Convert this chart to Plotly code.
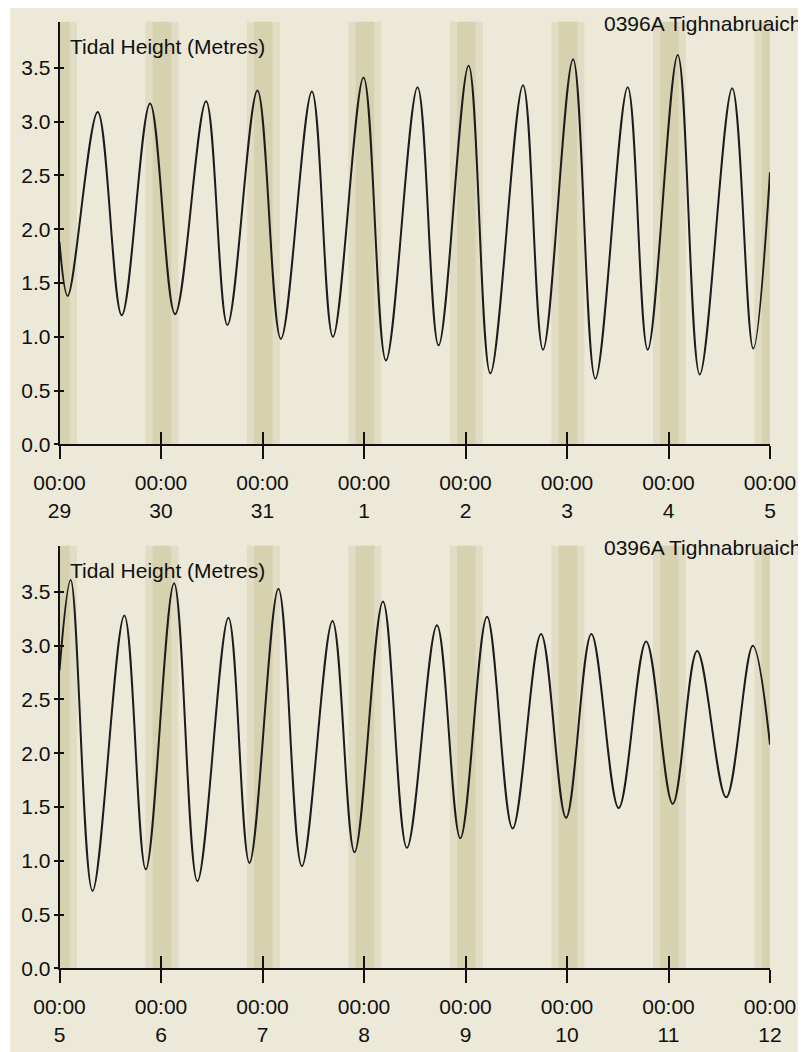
import plotly.graph_objects as go

# ---------------- data (hours since 00:00 of the first day of each panel) -------------
p1_days = ["29", "30", "31", "1", "2", "3", "4", "5"]
p1_hours = [0.0, 1.94, 9.04, 14.72, 21.41, 27.33, 34.66, 39.70, 46.80, 52.34, 59.68,
            64.65, 71.89, 77.19, 84.66, 89.63, 96.73, 101.87, 109.60, 114.33, 121.43,
            126.71, 134.35, 139.08, 146.19, 151.39, 159.06, 164.03, 168.0]
p1_height = [1.88, 1.38, 3.09, 1.20, 3.17, 1.21, 3.19, 1.11, 3.29, 0.98, 3.28,
             1.00, 3.41, 0.78, 3.32, 0.92, 3.52, 0.66, 3.34, 0.88, 3.58,
             0.61, 3.32, 0.88, 3.62, 0.65, 3.31, 0.89, 2.53]

p2_days = ["5", "6", "7", "8", "9", "10", "11", "12"]
p2_hours = [0.0, 2.65, 7.81, 15.33, 20.40, 27.09, 32.61, 39.94, 44.91, 51.77, 57.31,
            64.55, 69.76, 76.48, 82.15, 89.25, 94.77, 101.09, 107.14, 113.86, 119.78,
            125.76, 132.22, 138.71, 145.00, 150.78, 157.64, 163.93, 168.0]
p2_height = [2.77, 3.61, 0.72, 3.28, 0.92, 3.58, 0.81, 3.26, 0.98, 3.53, 0.95,
             3.23, 1.08, 3.41, 1.12, 3.19, 1.21, 3.27, 1.30, 3.11, 1.40,
             3.11, 1.49, 3.04, 1.53, 2.95, 1.59, 3.00, 2.08]

y_ticks = [0.0, 0.5, 1.0, 1.5, 2.0, 2.5, 3.0, 3.5]
y_max = 3.93
# twilight / night relative to each midnight (hours)
twilight_span = (-3.7, 4.1)
night_span = (-2.0, 2.4)

station = "0396A Tighnabruaich"
y_title = "Tidal Height (Metres)"

# ---------------- layout constants (page pixels) ----------------
PAGE_W, PAGE_H = 806, 1052
BODY = 8                      # default page margin around the plot div
W, H = PAGE_W - BODY, PAGE_H - BODY
AX_L, AX_R = 59.5, 770.0
PANELS = [(21.7, 444.3), (545.7, 968.3)]
BG = "#ECE9D8"
BAND_LIGHT = "#E1DDC4"
BAND_DARK = "#D6D1AE"
INK = "#101010"
FONT = dict(family="Liberation Sans, Arial, sans-serif", size=21, color=INK)


def fx(px):
    return (px - BODY) / W


def fy(py):
    return 1 - (py - BODY) / H


fig = go.Figure()
layout = dict(width=W, height=H, margin=dict(l=0, r=0, t=0, b=0, autoexpand=False),
              paper_bgcolor="white", plot_bgcolor=BG, showlegend=False,
              font=FONT, shapes=[], annotations=[])

# beige canvas (white strip top and left like the screenshot)
layout["shapes"].append(dict(type="rect", xref="paper", yref="paper",
                             x0=fx(10), x1=fx(PAGE_W), y0=fy(PAGE_H), y1=fy(BODY),
                             fillcolor=BG, line_width=0, layer="below"))

panels = [(p1_days, p1_hours, p1_height), (p2_days, p2_hours, p2_height)]
for i, ((days, hrs, hts), (top, bot)) in enumerate(zip(panels, PANELS)):
    xa_key = "xaxis" if i == 0 else "xaxis2"
    ya_key = "yaxis" if i == 0 else "yaxis2"
    xa_ref = "x" if i == 0 else "x2"
    ya_ref = "y" if i == 0 else "y2"
    tickvals = [24 * k for k in range(len(days))]
    ticktext = [f"00:00<br>{d}" for d in days]

    fig.add_trace(go.Scatter(x=hrs, y=hts, mode="lines", xaxis=xa_ref, yaxis=ya_ref,
                             line=dict(color="#1c1c1c", width=2, shape="spline", smoothing=1.0),
                             hoverinfo="skip"))
    # empty trace for the overlay axes (inside halves of the crossing ticks)
    fig.add_trace(go.Scatter(x=[None], y=[None], xaxis=f"x{i+3}", yaxis=f"y{i+3}",
                             mode="lines", hoverinfo="skip"))

    dom_x = [fx(AX_L), fx(AX_R)]
    dom_y = [fy(bot), fy(top)]
    xr = [0, tickvals[-1]]
    common = dict(showgrid=False, zeroline=False, automargin=False, fixedrange=True)
    layout[xa_key] = dict(domain=dom_x, range=xr, anchor=ya_ref, tickvals=tickvals,
                          ticktext=ticktext, ticks="outside", ticklen=13, tickwidth=1.5,
                          tickcolor=INK, showline=True, linecolor=INK, linewidth=1.5,
                          tickfont=FONT, ticklabelstandoff=6, **common)
    layout[ya_key] = dict(domain=dom_y, range=[0, y_max], anchor=xa_ref, tickvals=y_ticks,
                          tickformat=".1f", ticks="outside", ticklen=4, tickwidth=1.5,
                          tickcolor=INK, showline=True, linecolor=INK, linewidth=1.5,
                          tickfont=FONT, ticklabelstandoff=-1, **common)
    layout[f"xaxis{i+3}"] = dict(overlaying=xa_ref, range=xr, anchor=f"y{i+3}",
                                 tickvals=tickvals, ticks="inside", ticklen=12,
                                 tickwidth=1.5, tickcolor=INK, showticklabels=False,
                                 showline=False, **common)
    layout[f"yaxis{i+3}"] = dict(overlaying=ya_ref, range=[0, y_max], anchor=f"x{i+3}",
                                 tickvals=y_ticks, ticks="inside", ticklen=4,
                                 tickwidth=1.5, tickcolor=INK, showticklabels=False,
                                 showline=False, **common)

    # night shading around every midnight
    for mid in tickvals:
        for span, col in ((twilight_span, BAND_LIGHT), (night_span, BAND_DARK)):
            layout["shapes"].append(dict(type="rect", xref=xa_ref, yref=f"{ya_ref} domain",
                                         x0=mid + span[0], x1=mid + span[1], y0=0, y1=1,
                                         fillcolor=col, line_width=0, layer="below"))

    layout["annotations"].append(dict(text=station, xref="paper", yref="paper",
                                      x=fx(803), y=fy(top + 2), xanchor="right",
                                      yanchor="middle", showarrow=False, font=FONT))
    layout["annotations"].append(dict(text=y_title, xref="paper", yref="paper",
                                      x=fx(68), y=fy(top + 25), xanchor="left",
                                      yanchor="middle", showarrow=False, font=FONT))

fig.update_layout(**layout)
fig.write_html("out.html")
